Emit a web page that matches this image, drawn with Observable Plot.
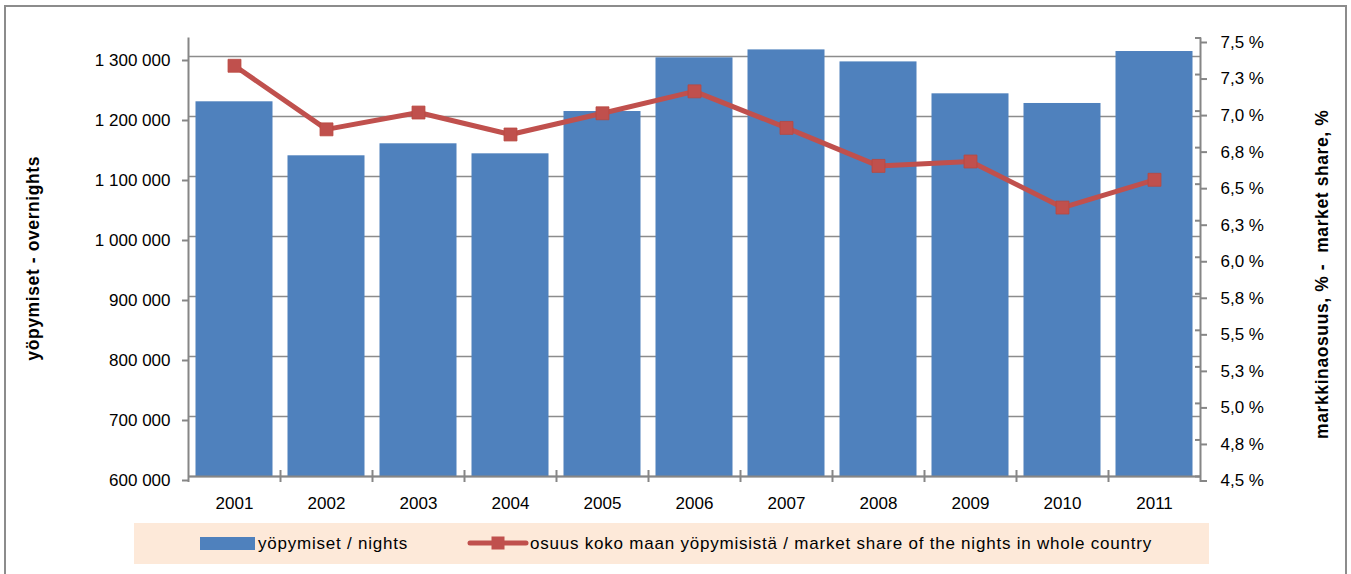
<!DOCTYPE html>
<html><head><meta charset="utf-8">
<script src="https://cdn.jsdelivr.net/npm/d3@7"></script>
<script src="https://cdn.jsdelivr.net/npm/@observablehq/plot@0.6"></script>
<style>
body{margin:0;background:#fff;font-family:"Liberation Sans",Arial,sans-serif;}
#wrap{position:relative;width:1351px;height:574px;overflow:hidden;background:#fff}
#frame{position:absolute;left:4px;top:5px;width:1343px;height:640px;border:2px solid #8c8c8c;box-sizing:border-box}
#chart{position:absolute;left:0;top:0}
#legend{position:absolute;left:134px;top:523px;width:1075px;height:41px;background:#fde9d9;font-size:17px;color:#000}
.sw{position:absolute}
.lt{position:absolute;top:11px;white-space:nowrap;letter-spacing:0.78px}
</style></head>
<body>
<div id="wrap">
  <div id="frame"></div>
  <div id="chart"></div>
  <div id="legend"></div>
</div>
<script>
const years = ["2001","2002","2003","2004","2005","2006","2007","2008","2009","2010","2011"];
const nights = [1224500, 1134500, 1154500, 1137800, 1208300, 1297800, 1311000, 1291000, 1237800, 1221700, 1308300];
const share = [7.31, 6.875, 6.99, 6.84, 6.985, 7.135, 6.885, 6.625, 6.655, 6.34, 6.53];
const nightTicks = [600000, 700000, 800000, 900000, 1000000, 1100000, 1200000, 1300000];
const nightTickLabels = ["600 000","700 000","800 000","900 000","1 000 000","1 100 000","1 200 000","1 300 000"];
const shareTicks = [4.5, 4.75, 5.0, 5.25, 5.5, 5.75, 6.0, 6.25, 6.5, 6.75, 7.0, 7.25, 7.5];
const shareTickLabels = ["4,5 %","4,8 %","5,0 %","5,3 %","5,5 %","5,8 %","6,0 %","6,3 %","6,5 %","6,8 %","7,0 %","7,3 %","7,5 %"];
const nightsDomain = [600000, 1330833];
const shareDomain = [4.5, 7.5];
const leftTitle = "yöpymiset - overnights";
const rightTitle = "markkinaosuus, % -  market share, %";
const legendBars = "yöpymiset / nights";
const legendLine = "osuus koko maan yöpymisistä / market share of the nights in whole country";

const barColor = "#4f81bd", lineColor = "#c0504d", axisColor = "#868686", gridColor = "#8c8c8c";

const toY = d3.scaleLinear().domain(shareDomain).range(nightsDomain);
const rows = years.map((year, i) => ({year, nights: nights[i], share: share[i], sy: toY(share[i])}));
const nightLabel = new Map(nightTicks.map((t, i) => [t, nightTickLabels[i]]));
const shareY = shareTicks.map(toY);
const shareLabel = new Map(shareY.map((t, i) => [t, shareTickLabels[i]]));
const half = 46;

const chart = Plot.plot({
  width: 1351, height: 516,
  marginTop: 37.5, marginBottom: 40, marginLeft: 188, marginRight: 151,
  style: {fontFamily: "'Liberation Sans', Arial, sans-serif", fontSize: "17px", color: "#000", background: "transparent", overflow: "visible"},
  x: {type: "band", domain: years, paddingInner: 0.163, paddingOuter: 0.0815, round: false},
  y: {domain: nightsDomain},
  marks: [
    Plot.ruleY(nightTicks, {stroke: gridColor, strokeWidth: 1.3}),
    Plot.barY(rows, {x: "year", y1: nightsDomain[0], y2: "nights", fill: barColor}),
    Plot.ruleY([nightsDomain[0]], {stroke: axisColor, strokeWidth: 2}),
    Plot.ruleX([years[0]], {dx: -half, stroke: axisColor, strokeWidth: 2}),
    Plot.ruleX([years[years.length - 1]], {dx: half, stroke: axisColor, strokeWidth: 2}),
    Plot.ruleX(years.slice(1), {dx: -half, y1: nightsDomain[0], y2: nightsDomain[0], insetTop: -6, insetBottom: -6, stroke: axisColor, strokeWidth: 2}),
    Plot.ruleX([years[0]], {dx: -half, y1: nightsDomain[0], y2: nightsDomain[0], insetBottom: -6, stroke: axisColor, strokeWidth: 2}),
    Plot.ruleX([years[years.length - 1]], {dx: half, y1: nightsDomain[0], y2: nightsDomain[0], insetBottom: -6, stroke: axisColor, strokeWidth: 2}),
    Plot.axisX({tickSize: 0, tickPadding: 20, fontSize: 17, label: null}),
    Plot.axisY(nightTicks, {anchor: "left", tickSize: 6, tickPadding: 12, dy: 4, stroke: axisColor, strokeWidth: 2, tickFormat: d => nightLabel.get(d), fontSize: 17, label: null}),
    Plot.axisY(shareY, {anchor: "right", tickSize: 6, tickPadding: 14, dy: 4.5, stroke: axisColor, strokeWidth: 2, tickFormat: d => shareLabel.get(d), fontSize: 17, label: null}),
    Plot.axisY(shareY, {anchor: "right", tickSize: -6, stroke: axisColor, strokeWidth: 2, tickFormat: () => "", label: null}),
    Plot.line(rows, {x: "year", y: "sy", stroke: lineColor, strokeWidth: 5}),
    Plot.dot(rows, {x: "year", y: "sy", symbol: "square", r: 7.3, fill: lineColor, stroke: "#b9473f", strokeWidth: 0.8}),
    Plot.text([leftTitle], {frameAnchor: "left", textAnchor: "middle", dx: -155, dy: 1, rotate: -90, fontWeight: "bold", fontSize: 17.5, text: d => d}),
    Plot.text([rightTitle], {frameAnchor: "right", textAnchor: "middle", dx: 122, dy: 17, rotate: -90, fontWeight: "bold", fontSize: 17.5, text: d => d})
  ]
});
d3.select(chart).selectAll("g[aria-label='text'] text").attr("letter-spacing", "0.6px");
document.getElementById("chart").appendChild(chart);

const lg = document.getElementById("legend");
lg.innerHTML = `
  <div class="sw" style="left:66px;top:14px;width:55px;height:13px;background:${barColor}"></div>
  <div class="lt" style="left:124px">${legendBars}</div>
  <svg class="sw" style="left:333px;top:12px" width="62" height="16">
    <line x1="3" y1="8" x2="59" y2="8" stroke="${lineColor}" stroke-width="5" stroke-linecap="round"/>
    <rect x="24.5" y="1.5" width="13" height="13" fill="${lineColor}"/>
  </svg>
  <div class="lt" style="left:396px">${legendLine}</div>`;
</script>
</body></html>
